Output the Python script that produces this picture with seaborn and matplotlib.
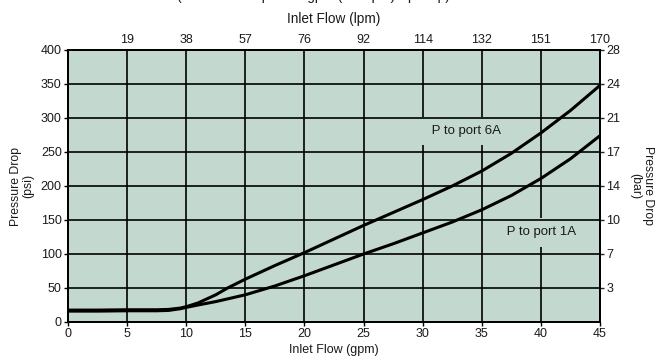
import numpy as np
import pandas as pd
import matplotlib
matplotlib.use("Agg")
import matplotlib.pyplot as plt
import seaborn as sns

# ---- data ----
flow_6a = [0, 2.5, 5, 7.5, 8.5, 9.5, 10, 11, 12.5, 13.5, 15, 17.5, 20, 22.5, 25, 27.5, 30, 32.5, 35, 37.5, 40, 42.5, 45]
psi_6a = [17.5, 17.5, 18, 18, 18.5, 20.5, 22.5, 28, 40, 50, 63, 83, 102, 122, 142, 161, 180, 200, 222, 248, 278, 311, 348]
flow_1a = [0, 2.5, 5, 7.5, 8.5, 9.5, 10, 11, 12.5, 15, 17.5, 20, 22.5, 25, 27.5, 30, 32.5, 35, 37.5, 40, 42.5, 45]
psi_1a = [16, 16, 16.5, 16.5, 17, 19.5, 21.5, 25, 30, 40, 53, 68, 84, 100, 115, 131, 147, 165, 186, 211, 240, 274]

gpm_ticks = [0, 5, 10, 15, 20, 25, 30, 35, 40, 45]
lpm_labels = ["19", "38", "57", "76", "92", "114", "132", "151", "170"]
psi_ticks = [0, 50, 100, 150, 200, 250, 300, 350, 400]
bar_labels = ["3", "7", "10", "14", "17", "21", "24", "28"]

BG = "#c3d9cf"
TXT = "#1a1a1a"

sns.set_theme(style="ticks")
plt.rcParams["font.family"] = ["Liberation Sans", "DejaVu Sans"]

df = pd.concat([
    pd.DataFrame({"flow": flow_6a, "psi": psi_6a, "curve": "P to port 6A"}),
    pd.DataFrame({"flow": flow_1a, "psi": psi_1a, "curve": "P to port 1A"}),
])

fig = plt.figure(figsize=(6.6, 3.6), dpi=100)
ax = fig.add_axes([68 / 660, 1 - 322 / 360, 532 / 660, 272 / 360])
ax.set_facecolor(BG)

sns.lineplot(data=df, x="flow", y="psi", hue="curve", palette=["black", "black"],
             linewidth=2.2, legend=False, ax=ax, zorder=5, sort=False)

ax.set_xlim(0, 45)
ax.set_ylim(0, 400)
ax.set_xticks(gpm_ticks)
ax.set_yticks(psi_ticks)
ax.grid(True, color="black", linewidth=1.2)
ax.set_axisbelow(True)
# vertical grid lines sit under the label boxes, horizontal ones above them
ax.xaxis.set_zorder(1)
ax.yaxis.set_zorder(7)
for s in ax.spines.values():
    s.set_color("black")
    s.set_linewidth(1.2)
ax.tick_params(axis="both", labelsize=9, length=3, width=1, color="black", pad=1.5, labelcolor=TXT)
ax.set_xlabel("Inlet Flow (gpm)", fontsize=9, labelpad=3, color=TXT)
ax.set_ylabel("Pressure Drop\n(psi)", fontsize=8.8, labelpad=5, color=TXT, linespacing=1.0)

# top axis (lpm)
axt = ax.twiny()
axt.set_xlim(ax.get_xlim())
axt.set_xticks(gpm_ticks[1:])
axt.set_xticklabels(lpm_labels)
axt.tick_params(axis="x", labelsize=9, length=0, pad=3, labelcolor=TXT)
axt.set_xlabel("Inlet Flow (lpm)", fontsize=9.8, labelpad=8, color=TXT)

# right axis (bar)
axr = ax.twinx()
axr.set_ylim(ax.get_ylim())
axr.set_yticks(psi_ticks[1:])
axr.set_yticklabels(bar_labels)
axr.tick_params(axis="y", labelsize=9, length=3, width=1, pad=1.5, labelcolor=TXT)
axr.set_ylabel("Pressure Drop\n(bar)", fontsize=8.8, rotation=270, labelpad=24, color=TXT, linespacing=1.0)
for a in (axt, axr):
    for s in a.spines.values():
        s.set_color("black")
        s.set_linewidth(1.2)

ax.text(33.7, 281, " P to port 6A ", fontsize=9.5, ha="center", va="center", color=TXT, zorder=6,
        bbox=dict(facecolor=BG, edgecolor="none", pad=6))
ax.text(40.0, 132, " P to port 1A ", fontsize=9.5, ha="center", va="center", color=TXT, zorder=6,
        bbox=dict(facecolor=BG, edgecolor="none", pad=6))

fig.text(0.475, 0.999, "(Pressure Drop at 45 gpm (170 lpm) Spool p)", fontsize=9.8, ha="center",
         va="baseline", color=TXT)

fig.savefig("out.png", dpi=100, facecolor="white")
